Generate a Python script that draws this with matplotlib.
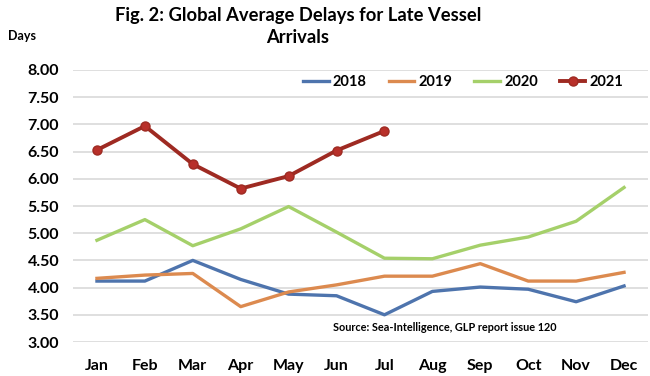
import matplotlib.pyplot as plt

months = ["Jan", "Feb", "Mar", "Apr", "May", "Jun", "Jul", "Aug", "Sep", "Oct", "Nov", "Dec"]
delays_2018 = [4.12, 4.12, 4.50, 4.15, 3.88, 3.85, 3.50, 3.93, 4.01, 3.97, 3.74, 4.03]
delays_2019 = [4.17, 4.23, 4.26, 3.65, 3.92, 4.05, 4.21, 4.21, 4.44, 4.12, 4.12, 4.28]
delays_2020 = [4.87, 5.25, 4.77, 5.08, 5.49, 5.02, 4.54, 4.53, 4.78, 4.93, 5.22, 5.84]
delays_2021 = [6.53, 6.97, 6.27, 5.82, 6.05, 6.52, 6.88]
y_ticks = [3.0, 3.5, 4.0, 4.5, 5.0, 5.5, 6.0, 6.5, 7.0, 7.5, 8.0]

plt.rcParams['font.family'] = ['Lato', 'DejaVu Sans']

fig = plt.figure(figsize=(6.5, 3.76), dpi=100)
ax = fig.add_axes([73 / 650, 1 - 342 / 376, 575 / 650, 272 / 376])

x = list(range(len(months)))
ax.plot(x, delays_2018, color="#4e74ad", lw=2.4, label="2018")
ax.plot(x, delays_2019, color="#dc8a4f", lw=2.4, label="2019")
ax.plot(x, delays_2020, color="#a5d06a", lw=2.4, label="2020")
ax.plot(x[:len(delays_2021)], delays_2021, color="#9e2a22", lw=2.8,
        marker="o", ms=6.5, markerfacecolor="#b8302a", markeredgecolor="#9e2a22", label="2021")

ax.set_xlim(-0.5, 11.5)
ax.set_ylim(3, 8)
ax.set_yticks(y_ticks)
ax.set_yticklabels([f"{v:.2f}" for v in y_ticks], fontsize=11.5, fontweight="bold")
ax.set_xticks(x)
ax.set_xticklabels(months, fontsize=11.5, fontweight="bold")
ax.tick_params(axis="both", length=0, pad=10)
ax.tick_params(axis="x", pad=12)
ax.grid(axis="y", color="#d9d9d9", lw=1.2)
for s in ["top", "right", "left", "bottom"]:
    ax.spines[s].set_visible(False)
ax.set_axisbelow(True)

leg = ax.legend(loc="center left", bbox_to_anchor=((303 - 73) / 575, (342 - 82) / 272), ncol=4,
                frameon=False, prop={"weight": "bold", "size": 10.5}, handlelength=1.75,
                columnspacing=1.5, handletextpad=0.3, borderpad=0, borderaxespad=0)

fig.text(0.458, 0.982, "Fig. 2: Global Average Delays for Late Vessel\nArrivals",
         ha="center", va="top", fontsize=13.2, fontweight="bold", linespacing=1.4)
fig.text(0.012, 0.905, "Days", ha="left", va="center", fontsize=9, fontweight="bold")
ax.text(0.453, 0.055, "Source: Sea-Intelligence, GLP report issue 120", transform=ax.transAxes,
        ha="left", va="center", fontsize=7.8, fontweight="bold")

fig.savefig("out.png", dpi=100)
